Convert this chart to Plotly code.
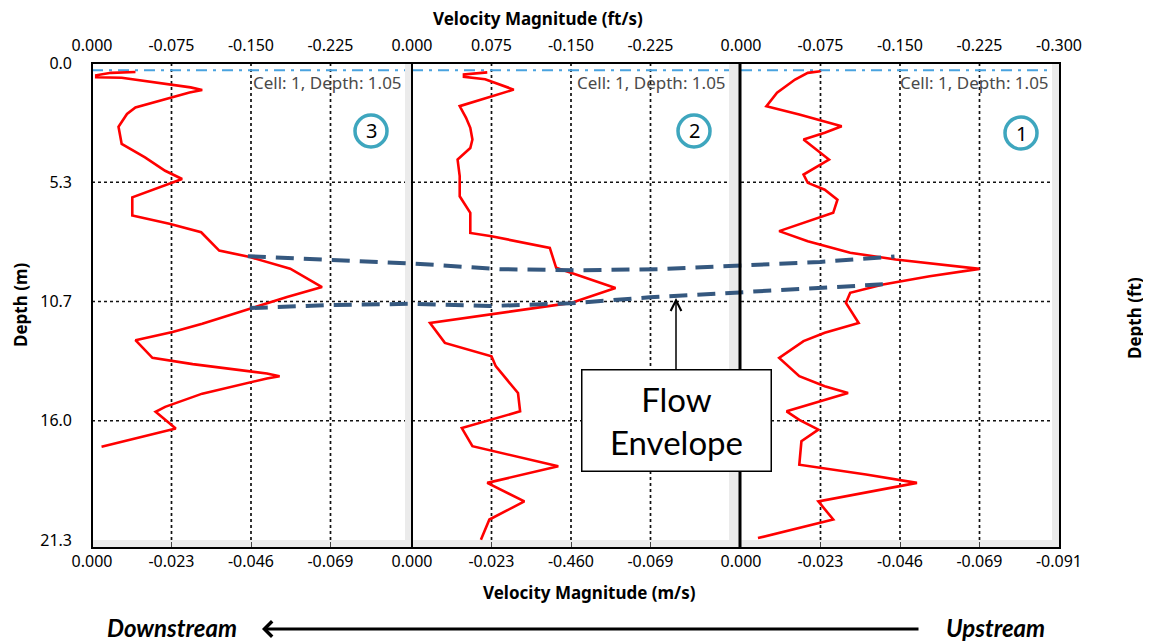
import plotly.graph_objects as go

FT = 0.3048  # metres per foot

# velocity magnitude (ft/s) against depth (m) for the three profiles, left to right
depth_3 = [0.40, 0.44, 0.55, 0.64, 0.66, 1.09, 1.21, 1.32, 1.99, 2.28, 2.85, 3.62, 4.22, 4.82,
           5.19, 5.48, 6.01, 6.82, 7.19, 7.57, 8.39, 8.68, 9.20, 10.02, 10.47, 10.99, 11.66,
           12.03, 12.40, 13.19, 13.47, 13.89, 14.01, 14.11, 14.79, 15.38, 15.60, 16.35, 16.72, 17.16]
vel_3 = [-0.041, -0.018, -0.004, -0.004, -0.028, -0.093, -0.104, -0.092, -0.041, -0.033, -0.025,
         -0.028, -0.050, -0.069, -0.085, -0.069, -0.038, -0.038, -0.073, -0.103, -0.120, -0.149,
         -0.187, -0.217, -0.184, -0.149, -0.104, -0.076, -0.041, -0.057, -0.095, -0.165, -0.177,
         -0.165, -0.104, -0.069, -0.060, -0.079, -0.047, -0.009]

depth_2 = [0.42, 0.51, 0.62, 0.73, 1.19, 1.93, 2.45, 2.90, 3.42, 3.80, 4.32, 5.06, 5.96, 6.41,
           6.70, 7.60, 7.75, 8.27, 9.16, 10.06, 10.73, 11.63, 12.52, 13.12, 13.56, 14.76, 15.58,
           16.33, 17.14, 18.04, 18.78, 19.61, 20.42, 21.32]
vel_2 = [-0.071, -0.049, -0.049, -0.069, -0.096, -0.045, -0.051, -0.055, -0.057, -0.055, -0.043,
         -0.045, -0.045, -0.051, -0.055, -0.055, -0.075, -0.130, -0.136, -0.192, -0.150, -0.017,
         -0.031, -0.075, -0.079, -0.100, -0.102, -0.047, -0.057, -0.138, -0.071, -0.106, -0.073,
         -0.065]

depth_1 = [0.37, 0.44, 0.74, 1.33, 1.93, 2.30, 2.83, 3.12, 3.42, 4.32, 4.99, 5.36, 5.67, 6.11,
           6.70, 7.52, 7.97, 8.49, 8.79, 9.21, 9.54, 9.91, 10.28, 10.73, 11.63, 12.07, 12.44,
           13.19, 14.01, 14.46, 14.76, 15.58, 15.96, 16.40, 16.92, 17.97, 18.41, 18.78, 19.61,
           20.42, 21.25]
vel_1 = [-0.075, -0.063, -0.051, -0.034, -0.024, -0.055, -0.095, -0.079, -0.059, -0.083, -0.059,
         -0.063, -0.079, -0.091, -0.087, -0.036, -0.063, -0.103, -0.146, -0.225, -0.178, -0.134,
         -0.103, -0.099, -0.111, -0.079, -0.059, -0.036, -0.055, -0.079, -0.101, -0.043, -0.055,
         -0.073, -0.057, -0.055, -0.118, -0.166, -0.073, -0.087, -0.016]

profile_names = ["3", "2", "1"]
profiles = [(depth_3, vel_3), (depth_2, vel_2), (depth_1, vel_1)]

cell_depth_ft = 1.05

ft_ticks = [0, -0.075, -0.150, -0.225, -0.300]
ft_labels = [["0.000", "-0.075", "-0.150", "-0.225"],
             ["0.000", "0.075", "-0.150", "-0.225"],
             ["0.000", "-0.075", "-0.150", "-0.225", "-0.300"]]
ms_labels = [["0.000", "-0.023", "-0.046", "-0.069"],
             ["0.000", "-0.023", "-0.460", "-0.069"],
             ["0.000", "-0.023", "-0.046", "-0.069", "-0.091"]]
depth_ft_ticks = [0, 17.5, 35.0, 52.5, 70.0]
depth_ft_labels = ["0.0", "17.5", "35.0", "52.5", "70.0"]
depth_m_labels = ["0.0", "5.3", "10.7", "16.0", "21.3"]

# flow envelope: position across the section (0-1) and depth (m)
env_upper_pos = [0.161, 0.246, 0.332, 0.421, 0.504, 0.587, 0.669, 0.752, 0.829]
env_upper_depth = [8.64, 8.80, 8.97, 9.22, 9.27, 9.22, 9.06, 8.90, 8.66]
env_lower_pos = [0.163, 0.246, 0.332, 0.411, 0.494, 0.576, 0.669, 0.752, 0.817]
env_lower_depth = [10.96, 10.83, 10.77, 10.87, 10.75, 10.48, 10.26, 10.08, 9.90]

# ---- layout geometry, in pixels of the 1151x643 page (figure sits 8px in from the corner)
OFF = 8
PAGE_W, PAGE_H = 1151, 643
L, R, T, B = 92, 1060, 63, 548
WHITE_B = 540
panel_px = [(92, 412, 405), (412, 740, 729), (741, 1060, 1052)]
PX_PER_FT_S = 318 / 0.3


def fx(px):
    return (px - L) / (R - L)


def fy(py):
    return (B - py) / (B - T)


depth_max_m = 70.0 * FT
px_per_m = (WHITE_B - T) / depth_max_m
y_bottom = depth_max_m + (B - WHITE_B) / px_per_m

TICKFONT = dict(family="Noto Sans", size=16, color="black")

fig = go.Figure()
shapes = []
annotations = []
layout = dict(
    width=PAGE_W - OFF, height=PAGE_H - OFF,
    margin=dict(l=L - OFF, r=PAGE_W - R, t=T - OFF, b=PAGE_H - B, autoexpand=False),
    paper_bgcolor="white",
    plot_bgcolor="rgba(0,0,0,0)",
    showlegend=False,
    yaxis=dict(range=[y_bottom, 0], tickvals=[v * FT for v in depth_ft_ticks],
               ticktext=depth_m_labels, anchor="x", side="left", showgrid=False,
               zeroline=False, ticks="", ticklabelstandoff=19, tickfont=TICKFONT,
               automargin=False),
    yaxis2=dict(range=[y_bottom / FT, 0], tickvals=depth_ft_ticks, ticktext=depth_ft_labels,
                overlaying="y", anchor="x3", side="right", showgrid=False, zeroline=False,
                ticks="", ticklabelstandoff=22, tickfont=TICKFONT, automargin=False),
    xaxis7=dict(domain=[0, 1], range=[0, 1], visible=False, anchor="y", automargin=False),
)

for i, (left, right, strip) in enumerate(panel_px):
    n = i + 1
    nb = "" if n == 1 else str(n)
    bottom = "x" + nb
    top = "x" + str(n + 3)
    span = -(right - left) / PX_PER_FT_S
    strip_ft = -(strip - left) / PX_PER_FT_S
    k = len(ft_labels[i])
    layout["xaxis" + nb] = dict(
        domain=[fx(left), fx(right)], range=[0, span * FT], anchor="y", side="bottom",
        tickvals=[v * FT for v in ft_ticks[:k]], ticktext=ms_labels[i],
        showgrid=False, zeroline=False, ticks="inside", ticklen=6, tickcolor="#444",
        ticklabelstandoff=2, tickfont=TICKFONT, automargin=False)
    layout["xaxis" + str(n + 3)] = dict(
        overlaying=bottom, range=[0, span], anchor="y", side="top",
        tickvals=ft_ticks[:k], ticktext=ft_labels[i], showgrid=False, zeroline=False,
        ticks="", ticklabelstandoff=8, tickfont=TICKFONT, automargin=False)

    # grey inner frame strips of the chart control
    shapes.append(dict(type="rect", xref="paper", yref="paper", x0=fx(strip), x1=fx(right),
                       y0=0, y1=1, fillcolor="#ebebeb", line_width=0, layer="below"))
    # dotted grid
    for v in ft_ticks[1:4]:
        shapes.append(dict(type="line", xref=top, yref="y", x0=v, x1=v, y0=0, y1=depth_max_m,
                           line=dict(color="#111", width=1.7, dash="dot"), layer="below"))
    for d in depth_ft_ticks[1:4]:
        shapes.append(dict(type="line", xref=top, yref="y", x0=0, x1=strip_ft,
                           y0=d * FT, y1=d * FT,
                           line=dict(color="#111", width=1.7, dash="dot"), layer="below"))
    # first cell depth marker, drawn on the m/s axis
    fig.add_trace(go.Scatter(x=[0, strip_ft * FT], y=[cell_depth_ft * FT] * 2,
                             xaxis=bottom, yaxis="y", mode="lines", hoverinfo="skip",
                             line=dict(color="#4aa3df", width=2, dash="11px,6px,3px,6px")))
    annotations.append(dict(text="Cell: 1, Depth: %.2f" % cell_depth_ft, xref="paper",
                            yref="paper", x=fx(strip - 1), y=fy(83), xanchor="right",
                            yanchor="middle", showarrow=False,
                            font=dict(family="Noto Sans", size=17, color="#4a4a4a")))

    depth, vel = profiles[i]
    fig.add_trace(go.Scatter(x=vel, y=depth, xaxis=top, yaxis="y", mode="lines",
                             line=dict(color="#ff0000", width=2.6), name=profile_names[i]))

shapes.append(dict(type="rect", xref="paper", yref="paper", x0=0, x1=1, y0=0, y1=fy(WHITE_B),
                   fillcolor="#ebebeb", line_width=0, layer="below"))

# flow envelope
for pos, dep in [(env_upper_pos, env_upper_depth), (env_lower_pos, env_lower_depth)]:
    fig.add_trace(go.Scatter(x=pos, y=dep, xaxis="x7", yaxis="y", mode="lines",
                             line=dict(color="#35587f", width=4, dash="18px,10px")))

# frame
shapes.append(dict(type="rect", xref="paper", yref="paper", x0=0, x1=1, y0=0, y1=1,
                   line=dict(color="black", width=2)))
shapes.append(dict(type="line", xref="paper", yref="paper", x0=fx(412), x1=fx(412), y0=0, y1=1,
                   line=dict(color="black", width=2)))
shapes.append(dict(type="line", xref="paper", yref="paper", x0=fx(740), x1=fx(740), y0=0, y1=1,
                   line=dict(color="black", width=3)))

# circled profile numbers
for name, (cx, cy) in zip(profile_names, [(371, 131), (694, 131), (1021, 133)]):
    r = 16
    shapes.append(dict(type="circle", xref="paper", yref="paper", x0=fx(cx - r), x1=fx(cx + r),
                       y0=fy(cy + r), y1=fy(cy - r), line=dict(color="#3ea6be", width=3.5)))
    annotations.append(dict(text=name, xref="paper", yref="paper", x=fx(cx), y=fy(cy),
                            xanchor="center", yanchor="middle", showarrow=False,
                            font=dict(family="Noto Sans", size=20, color="black")))

# axis titles
titles = [
    dict(text="<b>Velocity Magnitude (ft/s)</b>", x=fx(538), y=fy(18)),
    dict(text="<b>Velocity Magnitude (m/s)</b>", x=fx(589), y=fy(592)),
    dict(text="<b>Depth (m)</b>", x=fx(20), y=fy(305), textangle=-90),
    dict(text="<b>Depth (ft)</b>", x=fx(1134), y=fy(318), textangle=-90),
]
for a in titles:
    a.update(xref="paper", yref="paper", showarrow=False, xanchor="center", yanchor="middle",
             font=dict(family="Noto Sans", size=17, color="black"))
annotations += titles

# flow envelope call-out
annotations.append(dict(text="Flow<br>Envelope", xref="paper", yref="paper", x=fx(676),
                        y=fy(298), ax=0, ay=122, showarrow=True, arrowhead=5, arrowsize=1.4,
                        arrowwidth=1.5, arrowcolor="black", bgcolor="white",
                        bordercolor="black", borderwidth=1.5, width=186, height=98,
                        font=dict(family="Lato", size=33, color="black")))

# downstream / upstream
annotations += [
    dict(text="<b><i>Downstream</i></b>", xref="paper", yref="paper", x=fx(172), y=fy(627),
         xanchor="center", yanchor="middle", showarrow=False,
         font=dict(family="Lato", size=24, color="black")),
    dict(text="<b><i>Upstream</i></b>", xref="paper", yref="paper", x=fx(995), y=fy(627),
         xanchor="center", yanchor="middle", showarrow=False,
         font=dict(family="Lato", size=24, color="black")),
    dict(text="", xref="paper", yref="paper", x=fx(262), y=fy(629), ax=658, ay=0,
         showarrow=True, arrowhead=4, arrowsize=1, arrowwidth=3, arrowcolor="black"),
]

layout["shapes"] = shapes
layout["annotations"] = annotations
fig.update_layout(**layout)
fig.write_html("out.html")
